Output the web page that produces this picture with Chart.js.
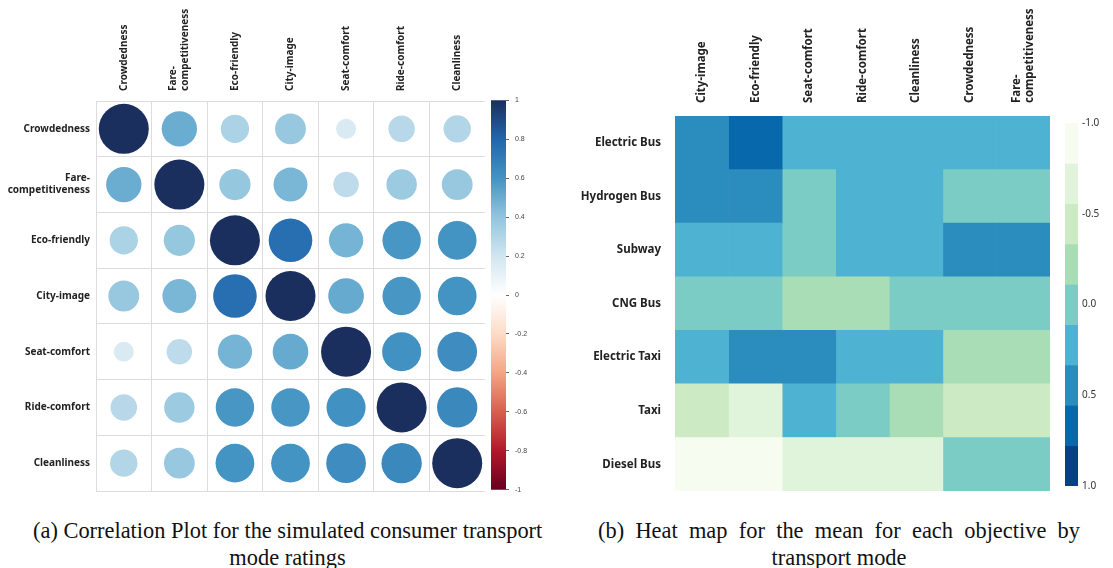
<!DOCTYPE html>
<html>
<head>
<meta charset="utf-8">
<script src="https://cdn.jsdelivr.net/npm/chart.js@4.4.0/dist/chart.umd.min.js"></script>
<style>
  body { margin: 0; background: #fff; width: 1113px; height: 568px; overflow: hidden; position: relative; }
  canvas { position: absolute; }
  .cap { position: absolute; font-family: "Liberation Serif", serif; font-size: 22.4px; line-height: 27px; color: #111; white-space: nowrap; }
  .just { text-align: justify; text-align-last: justify; }
  .mid { text-align: center; }
</style>
</head>
<body>
<canvas id="corrChart" width="485" height="503" style="left:0;top:0"></canvas>
<canvas id="corrScale" width="49" height="410" style="left:491px;top:90px"></canvas>
<canvas id="heatChart" width="490" height="512" style="left:560px;top:0"></canvas>
<canvas id="heatScale" width="48" height="383" style="left:1065px;top:113px"></canvas>

<div class="cap just" style="left:33px;top:517px;width:509px">(a) Correlation Plot for the simulated consumer transport</div>
<div class="cap mid" style="left:33px;top:544px;width:509px">mode ratings</div>
<div class="cap just" style="left:598px;top:517px;width:482px">(b) Heat map for the mean for each objective by</div>
<div class="cap mid" style="left:598px;top:544px;width:482px">transport mode</div>

<script>
// (a) correlation plot
const corrLabels = ['Crowdedness', ['Fare-', 'competitiveness'], 'Eco-friendly', 'City-image', 'Seat-comfort', 'Ride-comfort', 'Cleanliness'];
const corrValues = [
  [1.00, 0.50, 0.32, 0.38, 0.16, 0.28, 0.30],
  [0.50, 1.00, 0.39, 0.46, 0.26, 0.37, 0.38],
  [0.32, 0.39, 1.00, 0.76, 0.47, 0.59, 0.60],
  [0.38, 0.46, 0.76, 1.00, 0.51, 0.59, 0.60],
  [0.16, 0.26, 0.47, 0.51, 1.00, 0.61, 0.63],
  [0.28, 0.37, 0.59, 0.59, 0.61, 1.00, 0.65],
  [0.30, 0.38, 0.60, 0.60, 0.63, 0.65, 1.00]
];
const corrTicks = [-1, -0.8, -0.6, -0.4, -0.2, 0, 0.2, 0.4, 0.6, 0.8, 1];
const rdbu = ['#67001F', '#B2182B', '#D6604D', '#F4A582', '#FDDBC7', '#FFFFFF', '#D1E5F0', '#92C5DE', '#4393C3', '#2166AC', '#1B2F5E'];

// (b) heat map
const modes = ['Electric Bus', 'Hydrogen Bus', 'Subway', 'CNG Bus', 'Electric Taxi', 'Taxi', 'Diesel Bus'];
const objectives = ['City-image', 'Eco-friendly', 'Seat-comfort', 'Ride-comfort', 'Cleanliness', 'Crowdedness', ['Fare-', 'competitiveness']];
const heatValues = [
  [0.42, 0.63, 0.24, 0.22, 0.25, 0.21, 0.23],
  [0.45, 0.40, 0.05, 0.20, 0.18, 0.02, 0.04],
  [0.26, 0.24, 0.03, 0.21, 0.19, 0.44, 0.47],
  [0.02, -0.03, -0.18, -0.22, -0.05, 0.01, -0.02],
  [0.28, 0.41, 0.38, 0.23, 0.20, -0.25, -0.21],
  [-0.42, -0.62, 0.27, -0.02, -0.19, -0.45, -0.40],
  [-0.85, -0.82, -0.66, -0.70, -0.64, 0.05, 0.08]
];
const heatTicks = [-1, -0.5, 0, 0.5, 1];
const gnbu = ['#F7FCF0', '#E0F3DB', '#CCEBC5', '#A8DDB5', '#7BCCC4', '#4EB3D3', '#2B8CBE', '#0868AC', '#084081'];

function hexRgb(h) {
  return [1, 3, 5].map(i => parseInt(h.slice(i, i + 2), 16));
}
function rdbuColor(v) {
  const t = (v + 1) / 2 * (rdbu.length - 1);
  const i = Math.min(Math.floor(t), rdbu.length - 2);
  const f = t - i;
  const a = hexRgb(rdbu[i]), b = hexRgb(rdbu[i + 1]);
  return 'rgb(' + a.map((c, k) => Math.round(c + (b[k] - c) * f)).join(',') + ')';
}
function gnbuColor(v) {
  const i = Math.min(Math.floor((v + 1) / 2 * gnbu.length), gnbu.length - 1);
  return gnbu[i];
}

// rotated column labels above the plot, centred on each column (multi-line aware)
const topLabels = {
  id: 'topLabels',
  afterDraw(chart, args, opts) {
    const { ctx, chartArea } = chart;
    const x = chart.scales.x;
    ctx.save();
    ctx.font = opts.font;
    ctx.fillStyle = '#222';
    ctx.textAlign = 'left';
    ctx.textBaseline = 'middle';
    opts.labels.forEach((lab, i) => {
      const lines = [].concat(lab);
      const px = x.getPixelForValue(i + opts.shift);
      lines.forEach((line, k) => {
        ctx.save();
        ctx.translate(px + (k - (lines.length - 1) / 2) * opts.lineHeight, chartArea.top - opts.gap);
        ctx.rotate(-Math.PI / 2);
        ctx.fillText(line, 0, 0);
        ctx.restore();
      });
    });
    ctx.restore();
  }
};

// ---- correlation circles
const corrPoints = [];
corrValues.forEach((row, i) => {
  row.forEach((v, j) => corrPoints.push({ x: j, y: i, v: v }));
});

new Chart(document.getElementById('corrChart'), {
  type: 'scatter',
  data: {
    datasets: [{
      data: corrPoints,
      pointBorderWidth: 0,
      pointBackgroundColor: ctx => ctx.raw ? rdbuColor(ctx.raw.v) : '#fff',
      pointRadius: ctx => {
        const x = ctx.chart.scales.x;
        if (!ctx.raw || !x) return 0;
        const cell = Math.abs(x.getPixelForValue(1) - x.getPixelForValue(0));
        return isFinite(cell) ? cell * 0.45 * Math.sqrt(Math.abs(ctx.raw.v)) : 0;
      }
    }]
  },
  plugins: [topLabels],
  options: {
    responsive: false,
    animation: false,
    events: [],
    layout: { padding: 0 },
    plugins: {
      legend: { display: false },
      tooltip: { enabled: false },
      topLabels: { labels: corrLabels, shift: 0, font: 'bold 10px "Noto Sans"', lineHeight: 12, gap: 10 }
    },
    scales: {
      x: {
        type: 'linear', position: 'top', min: -0.5, max: 6.5,
        afterBuildTicks: s => { s.ticks = corrLabels.map((l, i) => ({ value: i })); },
        afterFit: s => { s.height = 101; },
        ticks: { display: false },
        grid: { offset: true, color: '#dcdcdc', drawTicks: false },
        border: { color: '#dcdcdc' }
      },
      y: {
        type: 'linear', reverse: true, min: -0.5, max: 6.5,
        afterBuildTicks: s => { s.ticks = corrLabels.map((l, i) => ({ value: i })); },
        afterFit: s => { s.width = 96; },
        ticks: { callback: (v, i) => corrLabels[i], autoSkip: false, padding: 6, color: '#222', font: { family: 'Noto Sans', size: 10, weight: 'bold' } },
        grid: { offset: true, color: '#dcdcdc', drawTicks: false },
        border: { color: '#dcdcdc' }
      }
    }
  }
});

// ---- correlation colour bar
new Chart(document.getElementById('corrScale'), {
  type: 'bar',
  data: {
    labels: [''],
    datasets: [{
      data: [[corrTicks[0], corrTicks[corrTicks.length - 1]]],
      barPercentage: 1, categoryPercentage: 1, borderWidth: 0,
      backgroundColor: ctx => {
        const area = ctx.chart.chartArea;
        if (!area) return '#fff';
        const g = ctx.chart.ctx.createLinearGradient(0, area.bottom, 0, area.top);
        rdbu.forEach((c, k) => g.addColorStop(k / (rdbu.length - 1), c));
        return g;
      }
    }]
  },
  options: {
    responsive: false,
    animation: false,
    events: [],
    layout: { padding: { top: 10, bottom: 10 } },
    plugins: { legend: { display: false }, tooltip: { enabled: false } },
    scales: {
      x: { display: false },
      y: {
        position: 'right', min: -1, max: 1,
        afterBuildTicks: s => { s.ticks = corrTicks.map(v => ({ value: v })); },
        afterFit: s => { s.width = 34; },
        ticks: { callback: v => String(+v.toFixed(1)), color: '#444', font: { family: 'Liberation Sans', size: 7 }, padding: 6 },
        grid: { drawOnChartArea: false, tickLength: 3, color: '#666' },
        border: { display: false }
      }
    }
  }
});

// ---- heat map (floating bars, one dataset per objective)
new Chart(document.getElementById('heatChart'), {
  type: 'bar',
  data: {
    labels: modes,
    datasets: objectives.map((o, j) => ({
      data: modes.map(() => [j, j + 1]),
      backgroundColor: modes.map((m, i) => gnbuColor(heatValues[i][j])),
      grouped: false, barPercentage: 1, categoryPercentage: 1, borderWidth: 0
    }))
  },
  plugins: [topLabels],
  options: {
    indexAxis: 'y',
    responsive: false,
    animation: false,
    events: [],
    layout: { padding: 0 },
    plugins: {
      legend: { display: false },
      tooltip: { enabled: false },
      topLabels: { labels: objectives, shift: 0.5, font: 'bold 11.5px "Noto Sans"', lineHeight: 13, gap: 13 }
    },
    scales: {
      x: {
        type: 'linear', position: 'top', min: 0, max: objectives.length,
        afterFit: s => { s.height = 116; },
        ticks: { display: false },
        grid: { display: false },
        border: { display: false }
      },
      y: {
        afterFit: s => { s.width = 115; },
        ticks: { padding: 14, color: '#222', font: { family: 'Noto Sans', size: 11.5, weight: 'bold' } },
        grid: { display: false, drawTicks: false },
        border: { display: false }
      }
    }
  }
});

// ---- heat map colour bar (discrete bins)
new Chart(document.getElementById('heatScale'), {
  type: 'bar',
  data: {
    labels: [''],
    datasets: gnbu.map((c, k) => ({
      data: [[-1 + 2 * k / gnbu.length, -1 + 2 * (k + 1) / gnbu.length]],
      backgroundColor: c,
      grouped: false, barPercentage: 1, categoryPercentage: 1, borderWidth: 0
    }))
  },
  options: {
    responsive: false,
    animation: false,
    events: [],
    layout: { padding: { top: 10, bottom: 10 } },
    plugins: { legend: { display: false }, tooltip: { enabled: false } },
    scales: {
      x: { display: false },
      y: {
        position: 'right', reverse: true, min: -1, max: 1,
        afterBuildTicks: s => { s.ticks = heatTicks.map(v => ({ value: v })); },
        afterFit: s => { s.width = 35; },
        ticks: { callback: v => v.toFixed(1), color: '#333', font: { family: 'Noto Sans', size: 10 }, padding: 4 },
        grid: { display: false, drawTicks: false },
        border: { display: false }
      }
    }
  }
});
</script>
</body>
</html>
